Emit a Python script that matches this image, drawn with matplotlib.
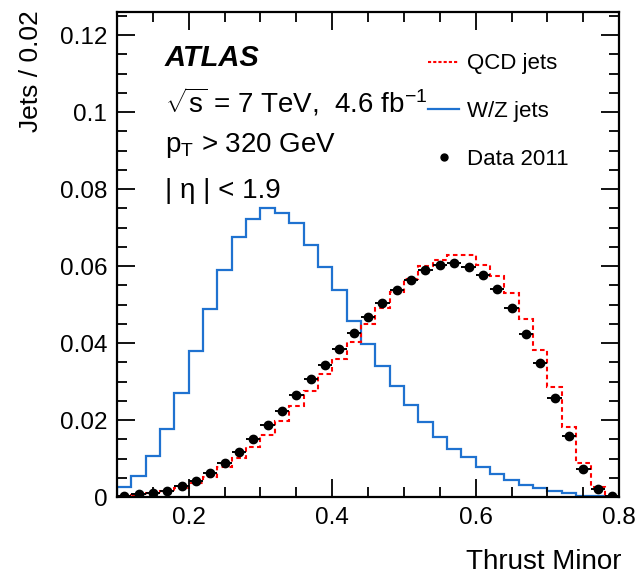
import numpy as np
import matplotlib
matplotlib.use("Agg")
import matplotlib.pyplot as plt
from matplotlib.lines import Line2D
from matplotlib.ticker import MultipleLocator

plt.rcParams['font.family'] = ['Liberation Sans', 'DejaVu Sans']
plt.rcParams['mathtext.fontset'] = 'custom'
plt.rcParams['mathtext.rm'] = 'Liberation Sans'
plt.rcParams['mathtext.it'] = 'Liberation Sans:italic'

# bin edges 0.10 .. 0.80, width 0.02
bin_edges = np.round(np.arange(0.10, 0.8001, 0.02), 2)

wz_jets = [0.0027, 0.0055, 0.0107, 0.0178, 0.0271, 0.0379, 0.0488, 0.0590,
           0.0676, 0.0722, 0.0751, 0.0737, 0.0712, 0.0655, 0.0598, 0.0539,
           0.0458, 0.0397, 0.0340, 0.0288, 0.0240, 0.0195, 0.0156, 0.0126,
           0.0104, 0.0078, 0.0060, 0.0044, 0.0032, 0.0023, 0.0016, 0.0010,
           0.0004, 0.0002, 0.0001]

qcd_jets = [0.0003, 0.0005, 0.0010, 0.0016, 0.0023, 0.0037, 0.0053, 0.0077,
            0.0102, 0.0129, 0.0161, 0.0198, 0.0236, 0.0275, 0.0319, 0.0360,
            0.0403, 0.0449, 0.0490, 0.0533, 0.0566, 0.0600, 0.0616, 0.0629,
            0.0629, 0.0603, 0.0574, 0.0529, 0.0462, 0.0382, 0.0287, 0.0183,
            0.0088, 0.0025, 0.0000]

data_2011 = [0.0003, 0.0007, 0.0011, 0.0016, 0.0029, 0.0042, 0.0063, 0.0089,
             0.0118, 0.0151, 0.0186, 0.0224, 0.0265, 0.0306, 0.0344, 0.0385,
             0.0427, 0.0467, 0.0504, 0.0538, 0.0565, 0.0590, 0.0603, 0.0608,
             0.0598, 0.0576, 0.0540, 0.0490, 0.0425, 0.0349, 0.0257, 0.0158,
             0.0073, 0.0021, 0.0003]

blue = '#1f72d0'
red = '#ff0000'

fig = plt.figure(figsize=(6.41, 5.78), dpi=100)
ax = fig.add_axes([0.1825, 0.140, 0.7835, 0.839])

centers = 0.5 * (bin_edges[:-1] + bin_edges[1:])

ax.stairs(wz_jets, bin_edges, color=blue, lw=1.6)
ax.stairs(qcd_jets, bin_edges, color=red, lw=1.5, linestyle=(0, (2.2, 1.6)))
ax.errorbar(centers, data_2011, xerr=0.01, fmt='o', color='k', ms=6,
            elinewidth=1.4, capsize=0, zorder=5)

ax.set_xlim(0.1, 0.8)
ax.set_ylim(0, 0.126)
ax.xaxis.set_major_locator(MultipleLocator(0.2))
ax.xaxis.set_minor_locator(MultipleLocator(0.05))
ax.yaxis.set_major_locator(MultipleLocator(0.02))
ax.yaxis.set_minor_locator(MultipleLocator(0.005))
ax.set_yticks([0, 0.02, 0.04, 0.06, 0.08, 0.1, 0.12])
ax.set_yticklabels(['0', '0.02', '0.04', '0.06', '0.08', '0.1', '0.12'])
ax.set_xticks([0.2, 0.4, 0.6, 0.8])
ax.set_xticklabels(['0.2', '0.4', '0.6', '0.8'])

ax.tick_params(which='both', direction='in', top=True, right=True,
               labelsize=17.5, width=1.3)
ax.tick_params(which='major', length=13, pad=7)
ax.tick_params(which='minor', length=7)
for s in ax.spines.values():
    s.set_linewidth(1.6)

ax.set_ylabel('Jets / 0.02', fontsize=19, loc='top')
ax.yaxis.set_label_coords(-0.147, 1.004)
ax.set_xlabel('Thrust Minor', fontsize=20, loc='right')
ax.xaxis.set_label_coords(1.005, -0.108)

ax.text(0.095, 0.905, 'ATLAS', transform=ax.transAxes, fontsize=21,
        fontweight='bold', fontstyle='italic', va='center')
ax.text(0.095, 0.815, r'$\sqrt{\mathrm{s}}$ = 7 TeV,  4.6 fb$^{\mathrm{-1}}$',
        transform=ax.transAxes, fontsize=20, va='center')
ax.text(0.095, 0.725, r'p$_{\mathrm{T}}$ > 320 GeV', transform=ax.transAxes,
        fontsize=20, va='center')
ax.text(0.095, 0.632, '| η | < 1.9', transform=ax.transAxes, fontsize=20,
        va='center')

handles = [
    Line2D([], [], color=red, lw=1.5, linestyle=(0, (1.5, 1))),
    Line2D([], [], color=blue, lw=1.6),
    Line2D([], [], color='k', marker='o', ms=5, linestyle='none'),
]
ax.legend(handles, ['QCD jets', 'W/Z jets', 'Data 2011'], loc='upper left',
          bbox_to_anchor=(0.58, 0.956), frameon=False, fontsize=16,
          handlelength=1.4, labelspacing=1.2, handletextpad=0.36)

fig.savefig('out.png', dpi=100)
